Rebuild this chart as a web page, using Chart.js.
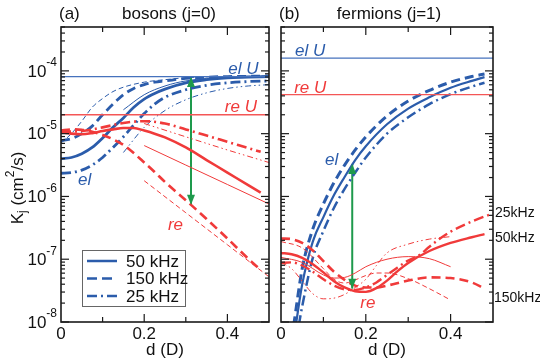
<!DOCTYPE html>
<html lang="en">
<head>
<meta charset="UTF-8">
<title>K_j vs d</title>
<script src="https://cdn.jsdelivr.net/npm/chart.js"></script>
<style>
  body { margin: 0; background: #fff; }
  #wrap { position: relative; width: 540px; height: 362px; overflow: hidden; }
  #wrap canvas { position: absolute; top: 0; }
</style>
</head>
<body>
<div id="wrap">
  <canvas id="bosons" width="275" height="362" style="left:0"></canvas>
  <canvas id="fermions" width="265" height="362" style="left:275px"></canvas>
</div>
<script>
// d in units of D, K_j in cm^2/s

// (a) bosons, elastic (blue)
const dA = [0, 0.025, 0.05, 0.075, 0.1, 0.125, 0.15, 0.175, 0.2, 0.225, 0.25, 0.3, 0.35, 0.4, 0.45, 0.5];
const bosEl50 = [3.98e-6, 4.17e-6, 4.79e-6, 6.03e-6, 8.51e-6, 1.26e-5, 1.78e-5, 2.63e-5, 3.55e-5, 4.37e-5, 5.13e-5, 6.46e-5, 7.24e-5, 7.76e-5, 7.94e-5, 8.13e-5];
const bosEl150 = [7.76e-6, 8.32e-6, 1.0e-5, 1.32e-5, 2.0e-5, 2.95e-5, 4.17e-5, 5.25e-5, 6.03e-5, 6.61e-5, 6.92e-5, 7.59e-5, 7.94e-5, 8.13e-5, 8.2e-5, 8.3e-5];
const bosEl25 = [2.34e-6, 2.40e-6, 2.63e-6, 3.16e-6, 4.17e-6, 6.03e-6, 8.91e-6, 1.38e-5, 2.09e-5, 2.95e-5, 3.80e-5, 5.01e-5, 5.89e-5, 6.46e-5, 6.76e-5, 6.92e-5];
const dAthinDash = [0, 0.025, 0.05, 0.075, 0.1, 0.125, 0.15, 0.2, 0.25, 0.3, 0.4, 0.5];
const bosEl150thin = [7.08e-6, 1.0e-5, 1.58e-5, 2.63e-5, 3.63e-5, 4.68e-5, 5.50e-5, 6.61e-5, 7.24e-5, 7.76e-5, 8.13e-5, 8.32e-5];
const dAthinSolid = [0.15, 0.2, 0.25, 0.3, 0.4, 0.5];
const bosEl50thin = [2.40e-5, 4.17e-5, 5.75e-5, 6.92e-5, 7.94e-5, 8.32e-5];
const dAthinDot = [0.15, 0.2, 0.25, 0.3, 0.35, 0.4, 0.45, 0.5];
const bosEl25thin = [5.01e-6, 1.26e-5, 2.34e-5, 3.47e-5, 4.47e-5, 5.25e-5, 5.75e-5, 6.03e-5];

// (a) bosons, reactive (red)
const dAr = [0, 0.025, 0.05, 0.075, 0.1, 0.125, 0.15, 0.175, 0.2, 0.225, 0.25, 0.3, 0.35, 0.4, 0.45, 0.48];
const bosRe50 = [1.05e-5, 1.0e-5, 9.77e-6, 1.02e-5, 1.10e-5, 1.17e-5, 1.23e-5, 1.23e-5, 1.12e-5, 1.0e-5, 8.71e-6, 6.03e-6, 3.80e-6, 2.40e-6, 1.51e-6, 1.15e-6];
const bosRe150 = [1.12e-5, 1.17e-5, 1.15e-5, 1.07e-5, 9.55e-6, 8.13e-6, 6.61e-6, 4.90e-6, 3.47e-6, 2.45e-6, 1.70e-6, 8.71e-7, 4.37e-7, 2.14e-7, 1.02e-7, 6.76e-8];
const dAr25 = [0, 0.05, 0.1, 0.15, 0.2, 0.25, 0.3, 0.35, 0.4, 0.45, 0.48];
const bosRe25 = [1.07e-5, 1.10e-5, 1.26e-5, 1.48e-5, 1.58e-5, 1.45e-5, 1.17e-5, 9.33e-6, 7.41e-6, 5.89e-6, 5.13e-6];
const dArThin = [0.2, 0.3, 0.4, 0.5];
const bosRe50thin = [6.46e-6, 3.16e-6, 1.55e-6, 7.59e-7];
const bosRe150thin = [1.78e-6, 5.50e-7, 1.70e-7, 5.25e-8];
const bosRe25thin = [1.45e-5, 8.91e-6, 5.50e-6, 3.47e-6];

const bosElU = 8.1e-5;
const bosReU = 2.0e-5;
const bosArrowD = 0.3125;
const bosArrowK = [8.0e-5, 7.4e-7];

// (b) fermions, elastic (blue)
const dF50 = [0.035, 0.05, 0.075, 0.1, 0.125, 0.15, 0.175, 0.2, 0.25, 0.3, 0.35, 0.4, 0.45, 0.48];
const ferEl50 = [8.91e-9, 3.98e-8, 1.91e-7, 4.68e-7, 1.05e-6, 2.04e-6, 3.80e-6, 6.31e-6, 1.41e-5, 2.51e-5, 3.80e-5, 5.37e-5, 6.92e-5, 7.94e-5];
const dF150 = [0.03, 0.05, 0.075, 0.1, 0.125, 0.15, 0.175, 0.2, 0.25, 0.3, 0.35, 0.4, 0.45, 0.48];
const ferEl150 = [8.91e-9, 7.08e-8, 3.02e-7, 7.59e-7, 1.66e-6, 3.16e-6, 5.50e-6, 8.91e-6, 1.91e-5, 3.31e-5, 4.90e-5, 6.61e-5, 8.13e-5, 8.91e-5];
const dF25 = [0.042, 0.05, 0.075, 0.1, 0.125, 0.15, 0.175, 0.2, 0.25, 0.3, 0.35, 0.4, 0.45, 0.48];
const ferEl25 = [8.91e-9, 1.78e-8, 1.05e-7, 2.82e-7, 6.61e-7, 1.32e-6, 2.40e-6, 4.17e-6, 1.0e-5, 1.82e-5, 2.95e-5, 4.27e-5, 5.62e-5, 6.46e-5];

// (b) fermions, reactive (red)
const dFr50 = [0, 0.025, 0.05, 0.075, 0.1, 0.125, 0.15, 0.175, 0.2, 0.225, 0.25, 0.275, 0.3, 0.35, 0.4, 0.45, 0.48];
const ferRe50 = [1.26e-7, 1.20e-7, 1.05e-7, 8.32e-8, 6.17e-8, 4.47e-8, 3.55e-8, 3.09e-8, 3.02e-8, 3.47e-8, 4.57e-8, 6.46e-8, 8.71e-8, 1.35e-7, 1.82e-7, 2.24e-7, 2.51e-7];
const dFr150 = [0, 0.025, 0.05, 0.075, 0.1, 0.125, 0.15, 0.175, 0.2, 0.225, 0.25, 0.3, 0.35, 0.4, 0.45, 0.48];
const ferRe150 = [2.14e-7, 2.09e-7, 1.82e-7, 1.38e-7, 9.33e-8, 6.31e-8, 4.68e-8, 3.80e-8, 3.55e-8, 3.55e-8, 3.80e-8, 4.57e-8, 5.13e-8, 5.01e-8, 4.27e-8, 3.39e-8];
const dFr25 = [0, 0.025, 0.05, 0.075, 0.1, 0.125, 0.15, 0.175, 0.2, 0.225, 0.25, 0.275, 0.3, 0.325, 0.35, 0.375, 0.4, 0.45, 0.5];
const ferRe25 = [8.71e-8, 8.91e-8, 7.94e-8, 6.31e-8, 4.79e-8, 3.80e-8, 3.31e-8, 3.24e-8, 3.55e-8, 4.27e-8, 5.62e-8, 7.41e-8, 9.55e-8, 1.15e-7, 1.58e-7, 2.14e-7, 2.75e-7, 3.98e-7, 5.37e-7];
const dFrThin50 = [0, 0.05, 0.1, 0.125, 0.15, 0.175, 0.2, 0.25, 0.3, 0.35, 0.4];
const ferRe50thin = [1.07e-7, 8.91e-8, 5.62e-8, 5.01e-8, 5.13e-8, 6.03e-8, 7.59e-8, 1.0e-7, 1.10e-7, 1.02e-7, 7.59e-8];
const dFrThin150 = [0, 0.05, 0.1, 0.125, 0.15, 0.175, 0.2, 0.225, 0.25, 0.3, 0.35, 0.4];
const ferRe150thin = [1.91e-7, 1.51e-7, 7.08e-8, 4.79e-8, 4.17e-8, 4.68e-8, 5.50e-8, 6.03e-8, 6.03e-8, 4.90e-8, 3.39e-8, 2.24e-8];
const dFrThin25 = [0, 0.025, 0.05, 0.075, 0.1, 0.125, 0.15, 0.175, 0.2, 0.225, 0.25, 0.3, 0.35, 0.4];
const ferRe25thin = [8.91e-8, 7.08e-8, 4.47e-8, 2.82e-8, 2.34e-8, 2.40e-8, 2.75e-8, 3.55e-8, 4.79e-8, 7.94e-8, 1.26e-7, 1.74e-7, 2.09e-7, 2.29e-7];

const ferElU = 1.6e-4;
const ferReU = 4.2e-5;
const ferArrowD = 0.168;
const ferArrowK = [3.3e-6, 3.4e-8];

// axes
const yDecades = [-8, -7, -6, -5, -4];
const xTicks = [0.1, 0.2, 0.3, 0.4];
const xTickLabels = ['0', '0.2', '0.4'];
const legendLabels = ['50 kHz', '150 kHz', '25 kHz'];

const BLUE = '#2b5cab', RED = '#f03a3a', GREEN = '#1e9a4c';
const BLUE_U = '#4672bd', RED_U = '#f45656';
const DASH = [9, 5], DASHDOT = [10, 4, 2, 4], THINDASH = [5, 3], DASHDOTDOT = [6, 3, 1.5, 3, 1.5, 3];
const FONT = '"Liberation Sans", Arial, sans-serif';

function pts(xs, ys) { return xs.map((x, i) => ({ x: x, y: ys[i] })); }

function line(xs, ys, color, width, dash) {
    return {
        data: pts(xs, ys), borderColor: color, borderWidth: width, borderDash: dash || [],
        pointRadius: 0, fill: false, cubicInterpolationMode: 'monotone', clip: 0
    };
}

function arrow(d, ks) {
    var ds = line([d, d], ks, GREEN, 2);
    ds.arrow = true;
    return ds;
}

// texts etc. for each panel (page coordinates, or data coordinates with d/k)
const deco = {
    bosons: {
        ox: 0, yLabels: true, legend: true,
        texts: [
            { t: '(a)', x: 59, y: 14, size: 17 },
            { t: 'bosons (j=0)', x: 169, y: 14, size: 17, align: 'center' },
            { t: 'd (D)', x: 165, y: 350, size: 17, align: 'center' },
            { t: 'el U', d: 0.475, k: 1.08e-4, size: 17, italic: true, color: BLUE, align: 'right' },
            { t: 're U', d: 0.471, k: 2.68e-5, size: 17, italic: true, color: RED, align: 'right' },
            { t: 'el', d: 0.041, k: 1.8e-6, size: 17, italic: true, color: BLUE },
            { t: 're', d: 0.257, k: 3.47e-7, size: 17, italic: true, color: RED }
        ]
    },
    fermions: {
        ox: 275, yLabels: false, legend: false,
        texts: [
            { t: '(b)', x: 279, y: 14, size: 17 },
            { t: 'fermions (j=1)', x: 389, y: 14, size: 17, align: 'center' },
            { t: 'd (D)', x: 387, y: 350, size: 17, align: 'center' },
            { t: 'el U', d: 0.033, k: 2.07e-4, size: 17, italic: true, color: BLUE },
            { t: 're U', d: 0.031, k: 5.37e-5, size: 17, italic: true, color: RED },
            { t: 'el', d: 0.104, k: 3.72e-6, size: 17, italic: true, color: BLUE },
            { t: 're', d: 0.187, k: 2.0e-8, size: 17, italic: true, color: RED },
            { t: '25kHz', x: 495, y: 213, size: 14 },
            { t: '50kHz', x: 495, y: 238, size: 14 },
            { t: '150kHz', x: 494, y: 298, size: 14 }
        ]
    }
};

function head(ctx, from, to) {
    var ang = Math.atan2(to.y - from.y, to.x - from.x);
    var L = 10, W = 4;
    var c = Math.cos(ang), s = Math.sin(ang);
    ctx.beginPath();
    ctx.moveTo(to.x, to.y);
    ctx.lineTo(to.x - L * c + W * s, to.y - L * s - W * c);
    ctx.lineTo(to.x - L * c - W * s, to.y - L * s + W * c);
    ctx.closePath();
    ctx.fill();
}

const decoPlugin = {
    id: 'deco',
    afterDatasetsDraw(chart) {
        var cfg = deco[chart.canvas.id];
        var ctx = chart.ctx, a = chart.chartArea;
        var xs = chart.scales.x, ys = chart.scales.y;
        var ox = cfg.ox;
        ctx.save();

        // arrow heads
        ctx.fillStyle = GREEN;
        chart.data.datasets.forEach(function(ds, i) {
            if (!ds.arrow) return;
            var p = chart.getDatasetMeta(i).data;
            head(ctx, p[1], p[0]);
            head(ctx, p[0], p[1]);
        });

        // frame and ticks
        ctx.strokeStyle = '#1a1a1a';
        ctx.lineWidth = 1.2;
        function tk(x, y, dx, dy) {
            ctx.beginPath(); ctx.moveTo(x, y); ctx.lineTo(x + dx, y + dy); ctx.stroke();
        }
        yDecades.forEach(function(e) {
            var y = ys.getPixelForValue(Math.pow(10, e));
            tk(a.left, y, 8, 0); tk(a.right, y, -8, 0);
            for (var m = 2; m <= 9; m++) {
                var v = m * Math.pow(10, e);
                if (v > ys.max) break;
                var yy = ys.getPixelForValue(v);
                tk(a.left, yy, 4, 0); tk(a.right, yy, -4, 0);
            }
        });
        xTicks.forEach(function(v, i) {
            var x = xs.getPixelForValue(v);
            var len = (i % 2 === 1) ? 8 : 5;
            tk(x, a.bottom, 0, -len); tk(x, a.top, 0, len);
        });
        ctx.lineWidth = 1.6;
        ctx.strokeRect(a.left, a.top, a.right - a.left, a.bottom - a.top);

        // x tick labels
        ctx.fillStyle = '#111';
        ctx.font = '17px ' + FONT;
        ctx.textAlign = 'center';
        ctx.textBaseline = 'middle';
        [0, 0.2, 0.4].forEach(function(v, i) {
            ctx.fillText(xTickLabels[i], xs.getPixelForValue(v), 334);
        });

        // y tick labels as 10^e
        if (cfg.yLabels) {
            yDecades.forEach(function(e) {
                var y = ys.getPixelForValue(Math.pow(10, e));
                var ex = '-' + Math.abs(e);
                ctx.font = '12px ' + FONT;
                var w = ctx.measureText(ex).width;
                ctx.textAlign = 'left';
                ctx.fillText(ex, a.left - 4 - w, y - 8);
                ctx.font = '17px ' + FONT;
                ctx.textAlign = 'right';
                ctx.fillText('10', a.left - 4 - w, y + 1);
            });
            // axis title K_j (cm^2/s)
            var parts = [
                { t: 'K', s: 17, dy: 0 }, { t: 'j', s: 12, dy: 5 }, { t: ' (cm', s: 17, dy: 0 },
                { t: '2', s: 12, dy: -7 }, { t: '/s)', s: 17, dy: 0 }
            ];
            var tot = 0;
            parts.forEach(function(p) { ctx.font = p.s + 'px ' + FONT; p.w = ctx.measureText(p.t).width; tot += p.w; });
            ctx.save();
            ctx.translate(18, 188);
            ctx.rotate(-Math.PI / 2);
            ctx.textAlign = 'left';
            var cx = -tot / 2;
            parts.forEach(function(p) {
                ctx.font = p.s + 'px ' + FONT;
                ctx.fillText(p.t, cx, p.dy);
                cx += p.w;
            });
            ctx.restore();
        }

        // legend
        if (cfg.legend) {
            ctx.strokeStyle = '#666';
            ctx.lineWidth = 1;
            ctx.strokeRect(82.5, 250.5, 103, 56);
            var rows = [261, 278.5, 296];
            var dashes = [[], [10, 5], [10, 4, 2, 4]];
            ctx.strokeStyle = BLUE;
            ctx.lineWidth = 2.5;
            rows.forEach(function(y, i) {
                ctx.setLineDash(dashes[i]);
                ctx.beginPath(); ctx.moveTo(87, y); ctx.lineTo(117, y); ctx.stroke();
            });
            ctx.setLineDash([]);
            ctx.fillStyle = '#111';
            ctx.font = '17px ' + FONT;
            ctx.textAlign = 'left';
            rows.forEach(function(y, i) { ctx.fillText(legendLabels[i], 126, y + 1); });
        }

        // texts
        cfg.texts.forEach(function(tx) {
            ctx.font = (tx.italic ? 'italic ' : '') + tx.size + 'px ' + FONT;
            ctx.fillStyle = tx.color || '#111';
            ctx.textAlign = tx.align || 'left';
            ctx.textBaseline = 'middle';
            var x, y;
            if (tx.d !== undefined) {
                x = xs.getPixelForValue(tx.d); y = ys.getPixelForValue(tx.k);
            } else {
                x = tx.x - ox; y = tx.y;
            }
            ctx.fillText(tx.t, x, y);
        });
        ctx.restore();
    }
};

function makeChart(id, datasets, padding) {
    return new Chart(document.getElementById(id), {
        type: 'line',
        data: { datasets: datasets },
        options: {
            responsive: false,
            animation: false,
            events: [],
            layout: { padding: padding },
            scales: {
                x: { type: 'linear', min: 0, max: 0.5, display: false },
                y: { type: 'logarithmic', min: 1e-8, max: 5e-4, display: false }
            },
            plugins: { legend: { display: false }, tooltip: { enabled: false } }
        },
        plugins: [decoPlugin]
    });
}

makeChart('bosons', [
    line([0, 0.5], [bosElU, bosElU], BLUE_U, 1.3),
    line([0, 0.5], [bosReU, bosReU], RED_U, 1.3),
    line(dAr, bosRe50, RED, 2.6),
    line(dAr, bosRe150, RED, 2.6, DASH),
    line(dAr25, bosRe25, RED, 2.6, DASHDOT),
    line(dArThin, bosRe50thin, RED, 1),
    line(dArThin, bosRe150thin, RED, 1, THINDASH),
    line(dArThin, bosRe25thin, RED, 1, DASHDOTDOT),
    line(dA, bosEl50, BLUE, 2.8),
    line(dA, bosEl150, BLUE, 2.8, DASH),
    line(dA, bosEl25, BLUE, 2.8, DASHDOT),
    line(dAthinSolid, bosEl50thin, BLUE, 1),
    line(dAthinDash, bosEl150thin, BLUE, 1, THINDASH),
    line(dAthinDot, bosEl25thin, BLUE, 1, DASHDOTDOT),
    arrow(bosArrowD, bosArrowK)
], { left: 61, right: 6, top: 27, bottom: 40 });

makeChart('fermions', [
    line([0, 0.5], [ferElU, ferElU], BLUE_U, 1.3),
    line([0, 0.5], [ferReU, ferReU], RED_U, 1.3),
    line(dFr50, ferRe50, RED, 2.4),
    line(dFr150, ferRe150, RED, 2.6, DASH),
    line(dFr25, ferRe25, RED, 2.4, DASHDOT),
    line(dFrThin50, ferRe50thin, RED, 1),
    line(dFrThin150, ferRe150thin, RED, 1, THINDASH),
    line(dFrThin25, ferRe25thin, RED, 1, DASHDOTDOT),
    line(dF50, ferEl50, BLUE, 2.2),
    line(dF150, ferEl150, BLUE, 3, DASH),
    line(dF25, ferEl25, BLUE, 2.5, DASHDOT),
    arrow(ferArrowD, ferArrowK)
], { left: 6, right: 47, top: 27, bottom: 40 });
</script>
</body>
</html>
